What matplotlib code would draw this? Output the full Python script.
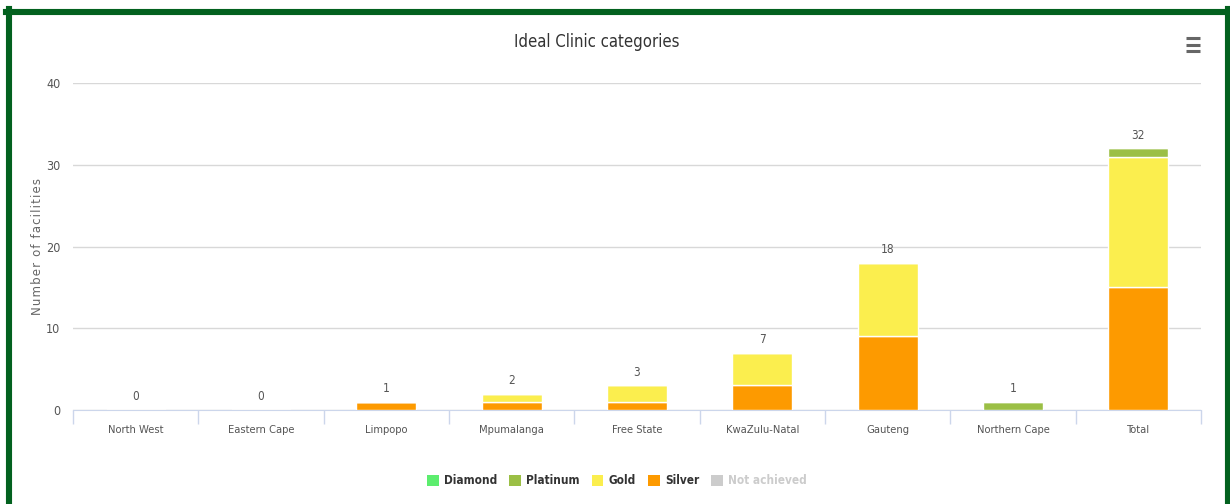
import matplotlib
matplotlib.use("Agg")
import matplotlib.pyplot as plt
from matplotlib.patches import Patch
from matplotlib.lines import Line2D
import numpy as np

plt.rcParams["font.family"] = ["DejaVu Sans"]
plt.rcParams["font.stretch"] = "condensed"

categories = ["North West", "Eastern Cape", "Limpopo", "Mpumalanga", "Free State",
              "KwaZulu-Natal", "Gauteng", "Northern Cape", "Total"]
not_achieved = [0, 0, 0, 0, 0, 0, 0, 0, 0]
silver = [0, 0, 1, 1, 1, 3, 9, 0, 15]
gold = [0, 0, 0, 1, 2, 4, 9, 0, 16]
platinum = [0, 0, 0, 0, 0, 0, 0, 1, 1]
diamond = [0, 0, 0, 0, 0, 0, 0, 0, 0]

series = [
    ("Diamond", diamond, "#5ced6e"),
    ("Platinum", platinum, "#9bbf45"),
    ("Gold", gold, "#fbee4e"),
    ("Silver", silver, "#fd9a00"),
    ("Not achieved", not_achieved, "#cccccc"),
]

fig = plt.figure(figsize=(12.3, 5.04), dpi=100)
ax = fig.add_axes([73 / 1230, 1 - 410 / 504, 1128 / 1230, 327 / 504])

x = np.arange(len(categories))
bottom = np.zeros(len(categories))
# stack from bottom: not achieved, silver, gold, platinum, diamond
for name, vals, color in reversed(series):
    vals = np.array(vals, dtype=float)
    ax.bar(x, vals, width=0.48, bottom=bottom, color=color,
           edgecolor="white", linewidth=1, zorder=3)
    bottom += vals

for xi, tot in zip(x, bottom):
    ax.text(xi, tot + 0.8, f"{int(tot)}", ha="center", va="bottom",
            fontsize=8.5, color="#555555")

ax.set_xlim(-0.5, len(categories) - 0.5)
ax.set_ylim(0, 40)
ax.set_yticks([0, 10, 20, 30, 40])
ax.yaxis.grid(True, color="#d8d8d8", linewidth=1, zorder=0)
ax.tick_params(axis="y", length=0, pad=9, labelsize=9, labelcolor="#555555")
ax.set_xticks(x)
ax.set_xticklabels(categories)
ax.tick_params(axis="x", length=0, pad=11, labelsize=8, labelcolor="#555555")
# category boundary ticks
ax.set_xticks(np.arange(len(categories) + 1) - 0.5, minor=True)
ax.tick_params(axis="x", which="minor", length=10, color="#ccd6eb", width=1)
for s in ["top", "right", "left"]:
    ax.spines[s].set_visible(False)
ax.spines["bottom"].set_color("#ccd6eb")

ax.set_ylabel("\u200a".join("Number of facilities"), fontsize=8.5,
              color="#666666", stretch="normal")
ax.yaxis.set_label_coords(-0.026, 0.5)

fig.text(597 / 1230, 1 - 42 / 504, "Ideal Clinic categories", ha="center",
         va="center", fontsize=12, color="#333333")

handles = [Patch(facecolor=c, edgecolor="none", label=n) for n, _, c in series]
leg = fig.legend(handles=handles, loc="center", ncol=5,
                 bbox_to_anchor=(617 / 1230, 1 - 481 / 504), frameon=False,
                 handlelength=1.0, handleheight=1.0, handletextpad=0.45,
                 columnspacing=1.0, prop={"weight": "bold", "size": 8.5})
for t in leg.get_texts():
    t.set_color("#333333")
leg.get_texts()[-1].set_color("#cccccc")

# menu icon
for yy in [37.5, 44.5, 51]:
    fig.add_artist(Line2D([1186 / 1230, 1200 / 1230], [1 - yy / 504, 1 - yy / 504],
                          color="#666666", linewidth=2.2, solid_capstyle="butt"))

# green frame
green = "#03611f"
fig.add_artist(Line2D([9 / 1230, 9 / 1230], [0, 1 - 9 / 504], color=green, linewidth=4.4))
fig.add_artist(Line2D([6 / 1230, 1], [1 - 12 / 504, 1 - 12 / 504], color=green, linewidth=4.4))
fig.add_artist(Line2D([1228 / 1230, 1228 / 1230], [0, 1 - 9 / 504], color=green, linewidth=4.4))

plt.savefig("out.png", dpi=100)
